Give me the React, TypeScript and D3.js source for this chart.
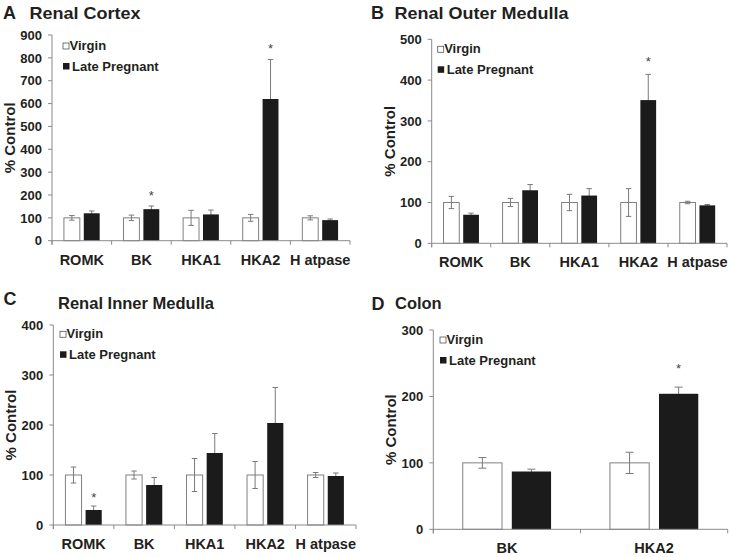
import React from 'react';
import * as d3 from 'd3';

const SERIES = ['Virgin', 'Late Pregnant'];
const CAT5 = ['ROMK', 'BK', 'HKA1', 'HKA2', 'H atpase'];
const CAT2 = ['BK', 'HKA2'];

const A_VIRGIN = [100, 100, 100, 100, 100];
const A_VIRGIN_ERR = [10, 12, 33, 15, 9];
const A_PREG = [120, 138, 115, 620, 90];
const A_PREG_ERR = [10, 14, 19, 173, 5];
const A_SIG = [false, true, false, true, false];
const A_TICKS = [0, 100, 200, 300, 400, 500, 600, 700, 800, 900];

const B_VIRGIN = [100, 100, 100, 100, 100];
const B_VIRGIN_ERR = [15, 10, 20, 34, 3];
const B_PREG = [70, 130, 117, 351, 93];
const B_PREG_ERR = [4, 14, 17, 63, 2];
const B_SIG = [false, false, false, true, false];
const B_TICKS = [0, 100, 200, 300, 400, 500];

const C_VIRGIN = [100, 100, 100, 100, 100];
const C_VIRGIN_ERR = [16, 8, 33, 27, 5];
const C_PREG = [30, 80, 144, 204, 98];
const C_PREG_ERR = [8, 15, 39, 71, 6];
const C_SIG = [true, false, false, false, false];
const C_TICKS = [0, 100, 200, 300, 400];

const D_VIRGIN = [100, 100];
const D_VIRGIN_ERR = [8, 16];
const D_PREG = [87, 204];
const D_PREG_ERR = [3.5, 10];
const D_SIG = [false, true];
const D_TICKS = [0, 100, 200, 300];

const FONT = '"Liberation Sans", Arial, Helvetica, sans-serif';
const TEXT = '#231f20';
const AXIS = '#8a8a8a';
const ERR = '#7a7a7a';

type Cfg = {
  letter: string; title: string; titleLen?: number;
  letterX: number; letterY: number; titleX: number; titleY: number;
  left: number; right: number; top: number; bottom: number;
  cats: string[]; virgin: number[]; virginErr: number[]; preg: number[]; pregErr: number[]; sig: boolean[];
  ticks: number[]; legendDx: number; legendDy: number; starGap: number; cap: number;
};

function Panel({ c }: { c: Cfg }) {
  const x = d3.scaleBand<string>().domain(c.cats).range([c.left, c.right]).padding(0);
  const xi = d3.scaleBand<string>().domain(SERIES).range([0, x.bandwidth()]).paddingInner(0.2).paddingOuter(0.6);
  const y = d3.scaleLinear().domain([0, c.ticks[c.ticks.length - 1]]).range([c.bottom, c.top]);
  const bw = xi.bandwidth();
  const boundaries = [...c.cats.map(k => x(k)!), c.right];
  const mid = (c.top + c.bottom) / 2;
  const errBar = (cx: number, v: number, e: number, key: string) => (
    <g key={key} stroke={ERR} strokeWidth={1}>
      <line x1={cx} x2={cx} y1={y(v + e)} y2={y(v - e)} />
      <line x1={cx - c.cap / 2} x2={cx + c.cap / 2} y1={y(v + e)} y2={y(v + e)} />
      <line x1={cx - c.cap / 2} x2={cx + c.cap / 2} y1={y(v - e)} y2={y(v - e)} />
    </g>
  );
  const lx = c.left + c.legendDx;
  const ly = c.top + c.legendDy;
  return (
    <g fontFamily={FONT} fill={TEXT}>
      <text x={c.letterX} y={c.letterY} fontSize={18} fontWeight="bold">{c.letter}</text>
      <text x={c.titleX} y={c.titleY} fontSize={16.5} fontWeight="bold"
        textLength={c.titleLen} lengthAdjust={c.titleLen ? 'spacingAndGlyphs' : undefined}>{c.title}</text>
      {/* white bars */}
      {c.cats.map((k, i) => (
        <rect key={'v' + k} x={x(k)! + xi('Virgin')!} y={y(c.virgin[i])} width={bw} height={y(0) - y(c.virgin[i])}
          fill="#fff" stroke="#808080" strokeWidth={1} />
      ))}
      {c.cats.map((k, i) => errBar(x(k)! + xi('Virgin')! + bw / 2, c.virgin[i], c.virginErr[i], 've' + k))}
      {c.cats.map((k, i) => errBar(x(k)! + xi('Late Pregnant')! + bw / 2, c.preg[i], c.pregErr[i], 'pe' + k))}
      {c.cats.map((k, i) => (
        <rect key={'p' + k} x={x(k)! + xi('Late Pregnant')!} y={y(c.preg[i])} width={bw} height={y(0) - y(c.preg[i])}
          fill="#1b1b1b" />
      ))}
      {c.cats.map((k, i) => c.sig[i] ? (
        <text key={'s' + k} x={x(k)! + xi('Late Pregnant')! + bw / 2} y={y(c.preg[i] + c.pregErr[i]) - c.starGap}
          textAnchor="middle" fontSize={13} fill="#444">*</text>
      ) : null)}
      {/* axes */}
      <line x1={c.left} x2={c.left} y1={c.top} y2={c.bottom + 4} stroke={AXIS} />
      <line x1={c.left} x2={c.right} y1={c.bottom} y2={c.bottom} stroke={AXIS} />
      {c.ticks.map(t => (
        <g key={'t' + t}>
          <line x1={c.left - 4} x2={c.left} y1={y(t)} y2={y(t)} stroke={AXIS} />
          <text x={c.left - 10} y={y(t)} dy="0.36em" textAnchor="end" fontSize={13} fontWeight="bold">{t}</text>
        </g>
      ))}
      {boundaries.map((b, i) => (
        <line key={'b' + i} x1={b} x2={b} y1={c.bottom} y2={c.bottom + 4} stroke={AXIS} />
      ))}
      {c.cats.map(k => (
        <text key={'c' + k} x={x(k)! + x.bandwidth() / 2} y={c.bottom + 24} textAnchor="middle" fontSize={14.5} fontWeight="bold">{k}</text>
      ))}
      <text transform={`translate(${c.left - 37},${mid}) rotate(-90)`} textAnchor="middle" fontSize={15} fontWeight="bold">% Control</text>
      {/* legend */}
      <rect x={lx} y={ly - 7} width={6} height={6} fill="#fff" stroke="#555" strokeWidth={0.8} />
      <text x={lx + 6.5} y={ly} fontSize={13} fontWeight="bold">{SERIES[0]}</text>
      <rect x={lx} y={ly + 20 - 7} width={6.5} height={6.5} fill="#1b1b1b" />
      <text x={lx + 9} y={ly + 20.5} fontSize={13} fontWeight="bold">{SERIES[1]}</text>
    </g>
  );
}

const PANELS: Cfg[] = [
  {
    letter: 'A', title: 'Renal Cortex', titleLen: 111, letterX: 3, letterY: 18.5, titleX: 29.5, titleY: 18.5,
    left: 52, right: 350, top: 35, bottom: 240.7, cats: CAT5,
    virgin: A_VIRGIN, virginErr: A_VIRGIN_ERR, preg: A_PREG, pregErr: A_PREG_ERR, sig: A_SIG,
    ticks: A_TICKS, legendDx: 11, legendDy: 15, starGap: 6, cap: 5.5,
  },
  {
    letter: 'B', title: 'Renal Outer Medulla', titleLen: 174, letterX: 371, letterY: 18.5, titleX: 394.5, titleY: 18.5,
    left: 431.7, right: 727, top: 39.3, bottom: 243.3, cats: CAT5,
    virgin: B_VIRGIN, virginErr: B_VIRGIN_ERR, preg: B_PREG, pregErr: B_PREG_ERR, sig: B_SIG,
    ticks: B_TICKS, legendDx: 6, legendDy: 14, starGap: 8, cap: 5.5,
  },
  {
    letter: 'C', title: 'Renal Inner Medulla', titleLen: 156, letterX: 3.5, letterY: 304.5, titleX: 58, titleY: 309.3,
    left: 53.3, right: 356, top: 325, bottom: 525, cats: CAT5,
    virgin: C_VIRGIN, virginErr: C_VIRGIN_ERR, preg: C_PREG, pregErr: C_PREG_ERR, sig: C_SIG,
    ticks: C_TICKS, legendDx: 6.7, legendDy: 13.3, starGap: 4, cap: 5.5,
  },
  {
    letter: 'D', title: 'Colon', titleLen: 46.7, letterX: 371.5, letterY: 310, titleX: 395, titleY: 309.3,
    left: 433.3, right: 727.7, top: 330, bottom: 529.3, cats: CAT2,
    virgin: D_VIRGIN, virginErr: D_VIRGIN_ERR, preg: D_PREG, pregErr: D_PREG_ERR, sig: D_SIG,
    ticks: D_TICKS, legendDx: 6.7, legendDy: 14, starGap: 14, cap: 8,
  },
];

export default function App() {
  return (
    <svg width={730} height={557} style={{ position: 'absolute', left: 0, top: 0, background: '#fff' }}>
      <rect width={730} height={557} fill="#fff" />
      {PANELS.map(p => <Panel key={p.letter} c={p} />)}
    </svg>
  );
}
